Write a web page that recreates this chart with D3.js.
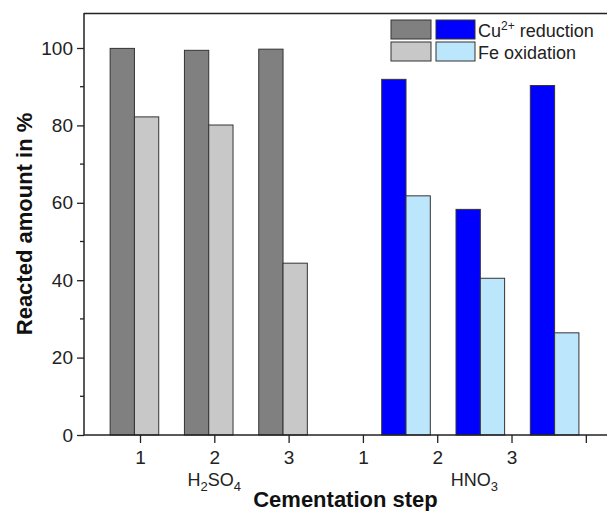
<!DOCTYPE html>
<html>
<head>
<meta charset="utf-8">
<script src="https://cdn.jsdelivr.net/npm/d3@7/dist/d3.min.js"></script>
<style>
  html, body { margin: 0; padding: 0; background: #fff; }
  svg { display: block; font-family: "Liberation Sans", Arial, sans-serif; }
</style>
</head>
<body>
<svg id="chart" width="607" height="511"></svg>
<script>
// Cementation runs: three steps in H2SO4, three in HNO3
const acids = ["H2SO4", "H2SO4", "H2SO4", "HNO3", "HNO3", "HNO3"];
const steps = ["1", "2", "3", "1", "2", "3"];
const groupPos = [0.925, 1.925, 2.925, 4.58, 5.58, 6.58];
const cuReduction = [99.9, 99.4, 99.7, 91.9, 58.3, 90.3];
const feOxidation = [82.2, 80.1, 44.4, 61.8, 40.5, 26.4];
const tickPos = [1, 2, 3, 4, 5, 6, 7];
const tickLabels = ["1", "2", "3", "1", "2", "3", ""];
const yTicks = [0, 20, 40, 60, 80, 100];
const yMinor = [10, 30, 50, 70, 90];

const colors = {
  H2SO4: { red: "#808080", ox: "#c8c8c8" },
  HNO3:  { red: "#0000ff", ox: "#bce6fb" }
};

const svg = d3.select("#chart");
const plotL = 84, plotT = 13, plotB = 435, plotR = 607;
const FONT = "Liberation Sans, Arial, sans-serif";

const x = d3.scaleLinear().domain([0.2463, 7.285]).range([plotL, plotR]);
const y = d3.scaleLinear().domain([0, 109]).range([plotB, plotB - 109 * 3.87]);
const barW = x(0.327) - x(0);

const rows = acids.map((a, i) => ({
  acid: a, pos: groupPos[i], red: cuReduction[i], ox: feOxidation[i]
}));

// bars
const g = svg.append("g");
g.selectAll("rect.red").data(rows).join("rect")
  .attr("class", "red")
  .attr("x", d => x(d.pos) - barW)
  .attr("y", d => y(d.red))
  .attr("width", barW)
  .attr("height", d => y(0) - y(d.red))
  .attr("fill", d => colors[d.acid].red)
  .attr("stroke", "#333").attr("stroke-width", 1);
g.selectAll("rect.ox").data(rows).join("rect")
  .attr("class", "ox")
  .attr("x", d => x(d.pos))
  .attr("y", d => y(d.ox))
  .attr("width", barW)
  .attr("height", d => y(0) - y(d.ox))
  .attr("fill", d => colors[d.acid].ox)
  .attr("stroke", "#333").attr("stroke-width", 1);

// top frame line runs to the edge
svg.append("line").attr("x1", plotL).attr("x2", plotR).attr("y1", plotT + 0.5).attr("y2", plotT + 0.5)
  .attr("stroke", "#222").attr("stroke-width", 1.5);

// y axis
const yAxis = d3.axisLeft(y).tickValues(yTicks).tickSize(7).tickPadding(4).tickFormat(d3.format("d"));
const ya = svg.append("g").attr("transform", `translate(${plotL},0)`).call(yAxis);
ya.select(".domain").attr("d", `M0,${plotT}V${plotB}`).attr("stroke", "#222").attr("stroke-width", 1.5);
ya.selectAll(".tick line").attr("stroke", "#222").attr("stroke-width", 1.3);
ya.selectAll("text").attr("font-size", 19).attr("fill", "#222").attr("font-family", FONT);
svg.append("g").selectAll("line").data(yMinor).join("line")
  .attr("x1", plotL - 4).attr("x2", plotL).attr("y1", d => y(d)).attr("y2", d => y(d))
  .attr("stroke", "#222").attr("stroke-width", 1.3);

// x axis
const xAxis = d3.axisBottom(x).tickValues(tickPos).tickSize(8).tickPadding(8)
  .tickFormat((d, i) => tickLabels[i]);
const xa = svg.append("g").attr("transform", `translate(0,${plotB})`).call(xAxis);
xa.select(".domain").attr("d", `M${plotL},0H${plotR}`).attr("stroke", "#222").attr("stroke-width", 1.5);
xa.selectAll(".tick line").attr("stroke", "#222").attr("stroke-width", 1.3);
xa.selectAll("text").attr("font-size", 19).attr("fill", "#222").attr("font-family", FONT);

// acid labels under the step numbers
const acidLabels = [
  { pos: 2, main: ["H", "SO"], subs: ["2", "4"] },
  { pos: 5.5, main: ["HNO"], subs: ["3"] }
];
acidLabels.forEach(a => {
  const t = svg.append("text").attr("x", x(a.pos)).attr("y", 485.5)
    .attr("text-anchor", "middle").attr("font-size", 18).attr("fill", "#222");
  a.main.forEach((m, i) => {
    t.append("tspan").text(m).attr("dy", i === 0 ? 0 : -5).attr("font-size", 18);
    if (a.subs[i] !== undefined) t.append("tspan").text(a.subs[i]).attr("dy", 5).attr("font-size", 13);
  });
});

// axis titles
svg.append("text").attr("x", (plotL + plotR) / 2).attr("y", 507)
  .attr("text-anchor", "middle").attr("font-size", 22).attr("font-weight", "bold").attr("fill", "#111")
  .text("Cementation step");
svg.append("text").attr("transform", `translate(32,${(plotT + plotB) / 2}) rotate(-90)`)
  .attr("text-anchor", "middle").attr("font-size", 22).attr("font-weight", "bold").attr("fill", "#111")
  .text("Reacted amount in %");

// legend
const leg = svg.append("g");
const legRows = [
  { key: "red", label: ["Cu", "2+", " reduction"] },
  { key: "ox", label: ["Fe oxidation"] }
];
legRows.forEach((r, i) => {
  const yy = 20 + i * 22;
  leg.append("rect").attr("x", 391).attr("y", yy).attr("width", 40).attr("height", 19)
    .attr("fill", colors.H2SO4[r.key]).attr("stroke", "#333");
  leg.append("rect").attr("x", 436).attr("y", yy).attr("width", 39).attr("height", 19)
    .attr("fill", colors.HNO3[r.key]).attr("stroke", "#333");
  const t = leg.append("text").attr("x", 478).attr("y", yy + 17).attr("font-size", 18).attr("fill", "#222");
  if (r.label.length === 3) {
    t.append("tspan").text(r.label[0]);
    t.append("tspan").text(r.label[1]).attr("font-size", 12).attr("dy", -7);
    t.append("tspan").text(r.label[2]).attr("dy", 7);
  } else {
    t.text(r.label[0]);
  }
});
</script>
</body>
</html>
